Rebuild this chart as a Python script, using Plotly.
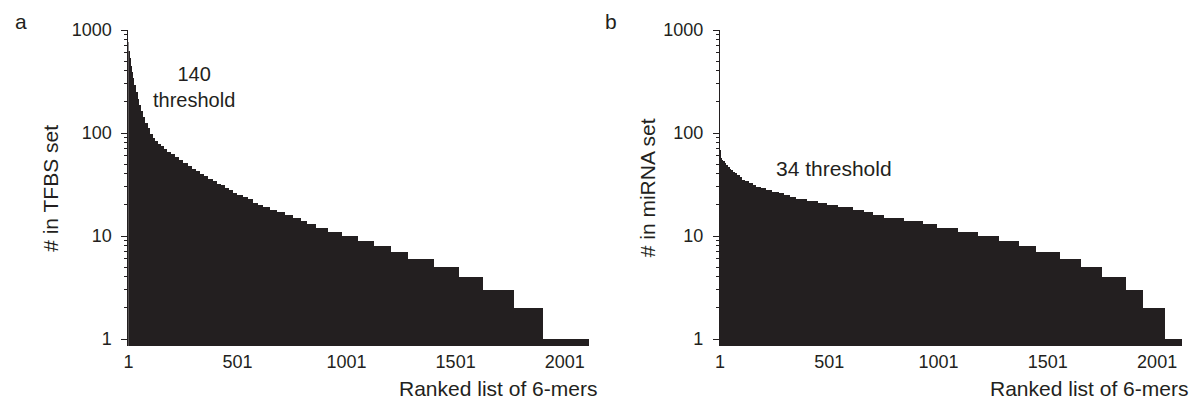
import plotly.graph_objects as go

# ---- data ----
# Panel a: TFBS set. Each step starts at the given rank and holds its count until the next start.
ranks_a = [1, 3, 7, 12, 17, 22, 30, 38, 45, 53, 60, 68, 80, 91, 102, 114, 125, 137, 150, 167,
           182, 198, 215, 236, 255, 274, 293, 312, 331, 350, 370, 389, 408, 427, 446, 465, 484,
           503, 526, 549, 572, 595, 618, 650, 686, 720, 757, 793, 820, 861, 916, 980, 1054,
           1127, 1205, 1287, 1406, 1520, 1630, 1772, 1905]
counts_a = [760, 620, 530, 450, 390, 340, 290, 252, 215, 187, 162, 144, 125, 111, 98, 89, 83, 79,
            74, 70, 66, 62, 58, 55, 51, 48, 45, 43, 40, 38, 36, 34, 32, 31, 29, 28, 26, 25, 24,
            23, 21, 20, 19, 18, 17, 16, 15, 14, 13, 12, 11, 10, 9, 8, 7, 6, 5, 4, 3, 2, 1]
end_a = 2115

# Panel b: miRNA set.
ranks_b = [1, 3, 5, 10, 15, 22, 30, 37, 45, 52, 60, 68, 80, 91, 103, 114, 133, 152, 167, 190,
           212, 240, 270, 296, 320, 349, 400, 450, 490, 540, 610, 660, 700, 750, 841, 928, 996,
           1092, 1183, 1279, 1371, 1448, 1558, 1654, 1750, 1859, 1937, 2037]
counts_b = [68, 62, 57, 55, 53, 51, 49, 47, 45, 44, 42, 41, 39, 37, 35, 34, 33, 31, 30, 29, 28,
            27, 26, 25, 24, 23, 22, 21, 20, 19, 18, 17, 16, 15, 14, 13, 12, 11, 10, 9, 8, 7, 6,
            5, 4, 3, 2, 1]
end_b = 2115

x_ticks = [1, 501, 1001, 1501, 2001]
y_ticks = [1, 10, 100, 1000]

# ---- figure ----
W, H = 1192, 401
TOP, BOTTOM = 30, 346
INK = "#231f20"
FONT = "Liberation Sans, Arial, Helvetica, sans-serif"


def widths(starts, end):
    nxt = starts[1:] + [end]
    return [b - a for a, b in zip(starts, nxt)]


fig = go.Figure()
fig.add_trace(go.Bar(x=ranks_a, y=counts_a, width=widths(ranks_a, end_a), offset=0,
                     marker=dict(color=INK, line=dict(width=0)), xaxis="x", yaxis="y",
                     showlegend=False, hoverinfo="x+y"))
fig.add_trace(go.Bar(x=ranks_b, y=counts_b, width=widths(ranks_b, end_b), offset=0,
                     marker=dict(color=INK, line=dict(width=0)), xaxis="x2", yaxis="y2",
                     showlegend=False, hoverinfo="x+y"))

minor_vals = [m * 10 ** e for e in range(3) for m in range(2, 10)]

yax = dict(type="log", range=[-0.068, 3.0], showline=True, linecolor=INK, linewidth=1,
           ticks="outside", ticklen=6, tickwidth=1, tickcolor=INK,
           tickvals=y_ticks, ticktext=[str(v) for v in y_ticks],
           minor=dict(tickvals=minor_vals, ticks="outside", ticklen=3, tickwidth=1,
                      tickcolor=INK, showgrid=False),
           showgrid=False, zeroline=False, ticklabelstandoff=6,
           tickfont=dict(family=FONT, size=18, color=INK))
xax = dict(range=[1, 2115], showline=False, ticks="", showgrid=False, zeroline=False,
           tickvals=x_ticks, ticktext=[str(v) for v in x_ticks], ticklabelstandoff=3,
           tickfont=dict(family=FONT, size=18, color=INK))

fig.update_layout(
    width=W, height=H,
    margin=dict(l=0, r=0, t=TOP, b=H - BOTTOM, pad=0),
    paper_bgcolor="white", plot_bgcolor="white",
    bargap=0,
    xaxis=dict(xax, domain=[124 / W, 587 / W], anchor="y"),
    yaxis=dict(yax, domain=[0, 1], anchor="x"),
    xaxis2=dict(xax, domain=[718 / W, 1182 / W], anchor="y2"),
    yaxis2=dict(yax, domain=[0, 1], anchor="x2"),
)


def px(x):
    return x / W


def py(y):
    return (BOTTOM - y) / (BOTTOM - TOP)


ann = [
    dict(text="a", x=px(16), y=py(21), size=21, xa="center", ya="middle", ang=0),
    dict(text="b", x=px(609), y=py(21), size=21, xa="center", ya="middle", ang=0),
    dict(text="140<br>threshold", x=px(190), y=py(87), size=20, xa="center", ya="middle", ang=0),
    dict(text="34 threshold", x=px(832), y=py(168), size=21, xa="center", ya="middle", ang=0),
    dict(text="# in TFBS set", x=px(45), y=py(188), size=21, xa="center", ya="middle", ang=-90),
    dict(text="# in miRNA set", x=px(645), y=py(188), size=21, xa="center", ya="middle", ang=-90),
    dict(text="Ranked list of 6-mers", x=px(597), y=py(388), size=21, xa="right", ya="middle", ang=0),
    dict(text="Ranked list of 6-mers", x=px(1190), y=py(388), size=21, xa="right", ya="middle", ang=0),
]
for a in ann:
    fig.add_annotation(text=a["text"], x=a["x"], y=a["y"], xref="paper", yref="paper",
                       xanchor=a["xa"], yanchor=a["ya"], textangle=a["ang"], showarrow=False,
                       font=dict(family=FONT, size=a["size"], color=INK))

fig.write_html("out.html", config={"displayModeBar": False},
               post_script="document.body.style.margin='0';document.body.style.overflow='hidden';")
